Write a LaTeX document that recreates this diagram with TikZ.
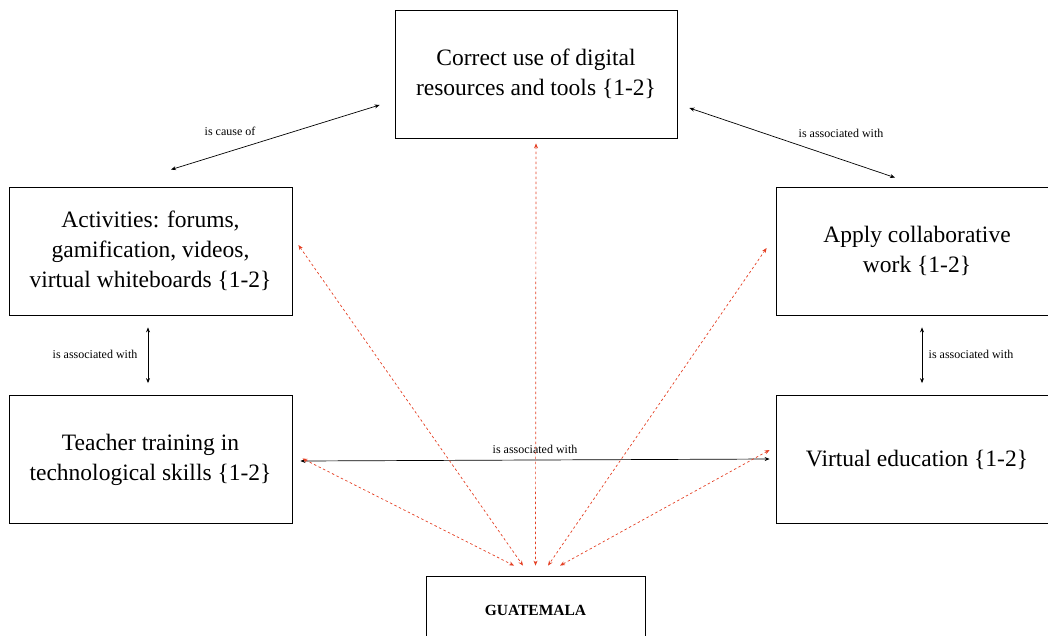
\documentclass[tikz,border=0pt]{standalone}
\usepackage{fontspec}
\setmainfont{Liberation Serif}
\usetikzlibrary{arrows.meta}
\definecolor{redarrow}{RGB}{228,64,36}
\tikzset{
  box/.style={draw=black, line width=0.8pt, minimum width=283pt, minimum height=128pt,
    align=center, inner sep=0pt, font=\fontsize{23.5}{30}\selectfont},
  rel/.style={draw=black, line width=0.7pt, {Stealth[length=5pt,width=4pt]}-{Stealth[length=5pt,width=4pt]}},
  reddash/.style={draw=redarrow, line width=0.7pt, dash pattern=on 2.5pt off 2.5pt,
    {Stealth[length=5pt,width=4pt]}-{Stealth[length=5pt,width=4pt]}},
  lbl/.style={font=\fontsize{12}{14}\selectfont, inner sep=0pt}
}
\begin{document}
\begin{tikzpicture}[x=1pt,y=-1pt]
\useasboundingbox (0,0) rectangle (1048,635);
\node[box, minimum width=282pt] (top) at (536,74) {Correct use of digital\\resources and tools \{1-2\}};
\node[box] (act) at (150.5,251) {Activities: forums,\\gamification, videos,\\virtual whiteboards \{1-2\}};
\node[box] (tea) at (150.5,459.5) {Teacher training in\\technological skills \{1-2\}};
\node[box, minimum width=282pt] (app) at (917,251) {Apply collaborative\\work \{1-2\}};
\node[box, minimum width=282pt] (vir) at (917,459.5) {Virtual education \{1-2\}};
\node[draw=black, line width=0.8pt, minimum width=219pt, minimum height=68pt, inner sep=0pt,
  font=\fontsize{15.5}{18}\selectfont\bfseries] (gua) at (535.5,610) {GUATEMALA};

% black relations
\draw[rel] ([shift={(20.5,-17)}]act.north) -- ([shift={(-15,31)}]top.west);
\node[lbl] at (230,131) {is cause of};
\draw[rel] ([shift={(12,34)}]top.east) -- ([shift={(-22,-9)}]app.north);
\node[lbl] at (841,133) {is associated with};
\draw[rel] ([shift={(-2.5,12)}]act.south) -- ([shift={(-2.5,-12)}]tea.north);
\node[lbl] at (95,354) {is associated with};
\draw[rel] ([shift={(5,12)}]app.south) -- ([shift={(5,-12)}]vir.north);
\node[lbl] at (971,354) {is associated with};
\draw[rel] ([shift={(8,1.5)}]tea.east) -- ([shift={(-6,-0.5)}]vir.west);
\node[lbl] at (535,449) {is associated with};

% red dashed relations
\draw[reddash] ([shift={(10,-1)}]tea.east) -- ([shift={(-21.5,-10)}]gua.north);
\draw[reddash] ([shift={(6,-6)}]act.east) -- ([shift={(-12.5,-10)}]gua.north);
\draw[reddash] ([shift={(0,5)}]top.south) -- ([shift={(0,-10)}]gua.north);
\draw[reddash] ([shift={(-9,-3)}]app.west) -- ([shift={(12.5,-10)}]gua.north);
\draw[reddash] ([shift={(-6,-9.5)}]vir.west) -- ([shift={(24.5,-10)}]gua.north);
\end{tikzpicture}
\end{document}
